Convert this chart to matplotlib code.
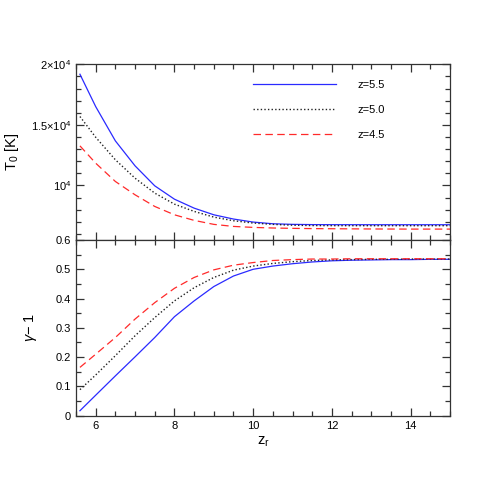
import matplotlib
matplotlib.use('Agg')
import matplotlib.pyplot as plt
from matplotlib.ticker import MultipleLocator, FixedLocator, FixedFormatter

plt.rcParams['font.family'] = ['Liberation Sans', 'DejaVu Sans']
plt.rcParams['mathtext.fontset'] = 'custom'
plt.rcParams['mathtext.rm'] = 'Liberation Sans'
plt.rcParams['mathtext.it'] = 'Liberation Sans:italic'

# reionization redshift grid
zr = [5.6, 6.0, 6.5, 7.0, 7.5, 8.0, 8.5, 9.0, 9.5, 10.0, 10.5, 11.0,
      11.5, 12.0, 12.5, 13.0, 13.5, 14.0, 14.5, 15.0]

# T0 [K]
T0_55 = [19180, 16510, 13680, 11620, 9970, 8870, 8130, 7580, 7230, 6980,
         6840, 6790, 6770, 6765, 6762, 6760, 6760, 6760, 6760, 6760]
T0_50 = [15690, 13980, 12120, 10600, 9370, 8460, 7860, 7390, 7090, 6900,
         6790, 6720, 6690, 6685, 6682, 6680, 6680, 6680, 6680, 6680]
T0_45 = [13270, 11840, 10330, 9230, 8270, 7580, 7120, 6790, 6620, 6540,
         6490, 6460, 6440, 6430, 6420, 6410, 6405, 6400, 6400, 6400]

# gamma - 1
g_55 = [0.017, 0.070, 0.136, 0.201, 0.267, 0.338, 0.392, 0.441, 0.477, 0.500,
        0.511, 0.519, 0.525, 0.529, 0.531, 0.532, 0.533, 0.533, 0.534, 0.534]
g_50 = [0.089, 0.139, 0.205, 0.273, 0.335, 0.392, 0.437, 0.472, 0.497, 0.511,
        0.520, 0.526, 0.530, 0.532, 0.533, 0.534, 0.534, 0.535, 0.535, 0.535]
g_45 = [0.165, 0.210, 0.267, 0.330, 0.386, 0.435, 0.472, 0.498, 0.514, 0.523,
        0.530, 0.533, 0.535, 0.535, 0.536, 0.536, 0.536, 0.536, 0.536, 0.536]

labels = ['z=5.5', 'z=5.0', 'z=4.5']

fig = plt.figure(figsize=(4.91, 4.91), dpi=100)
L, R = 76 / 491, 450 / 491
ax1 = fig.add_axes([L, 1 - 240 / 491, R - L, (240 - 64.3) / 491])
ax2 = fig.add_axes([L, 1 - 415.7 / 491, R - L, (415.7 - 240) / 491])

blue = '#2a2aff'
red = '#ff2a2a'
st = [dict(color=blue, lw=0.9, ls='-'),
      dict(color='#222222', lw=1.0, ls=(0, (1, 1.6))),
      dict(color=red, lw=0.9, ls=(0, (6, 3.5)))]

for y, s, lab in zip([T0_55, T0_50, T0_45], st, labels):
    ax1.plot(zr, y, label=lab, **s)
for y, s in zip([g_55, g_50, g_45], st):
    ax2.plot(zr, y, **s)

for ax in (ax1, ax2):
    ax.set_xlim(5.5, 15)
    ax.xaxis.set_major_locator(MultipleLocator(2))
    ax.xaxis.set_minor_locator(MultipleLocator(0.5))
    ax.tick_params(which='both', direction='in', top=True, right=True,
                   labelsize=8, color='#333333', width=0.9)
    ax.tick_params(which='major', length=6)
    ax.tick_params(which='minor', length=3.5)
    for sp in ax.spines.values():
        sp.set_linewidth(0.9)
        sp.set_color('#333333')

ax1.set_ylim(5500, 20000)
ax1.yaxis.set_major_locator(FixedLocator([10000, 15000, 20000]))
ax1.yaxis.set_major_formatter(FixedFormatter([r'$10^4$', r'$1.5{\times}10^4$', r'$2{\times}10^4$']))
ax1.yaxis.set_minor_locator(MultipleLocator(1000))
ax1.tick_params(labelbottom=False)
ax1.set_ylabel(r'T$_0$ [K]', fontsize=10.5, labelpad=7)

ax2.set_ylim(0, 0.6)
ax2.yaxis.set_major_locator(MultipleLocator(0.1))
ax2.yaxis.set_minor_locator(MultipleLocator(0.05))
ax2.yaxis.set_major_formatter(plt.FuncFormatter(lambda v, p: '0' if abs(v) < 1e-9 else '%.1f' % v))
ax2.set_ylabel(r'$\gamma$$-$ 1', fontsize=10.5, labelpad=12)
ax2.set_xlabel(r'z$_{\rm r}$', fontsize=10.5, labelpad=3)

ax1.legend(loc='upper left', bbox_to_anchor=(0.4725, 0.91), frameon=False,
           fontsize=8, handlelength=7.5, handletextpad=1.9, labelspacing=1.35,
           borderpad=0, borderaxespad=0)

fig.savefig('out.png', dpi=100)
